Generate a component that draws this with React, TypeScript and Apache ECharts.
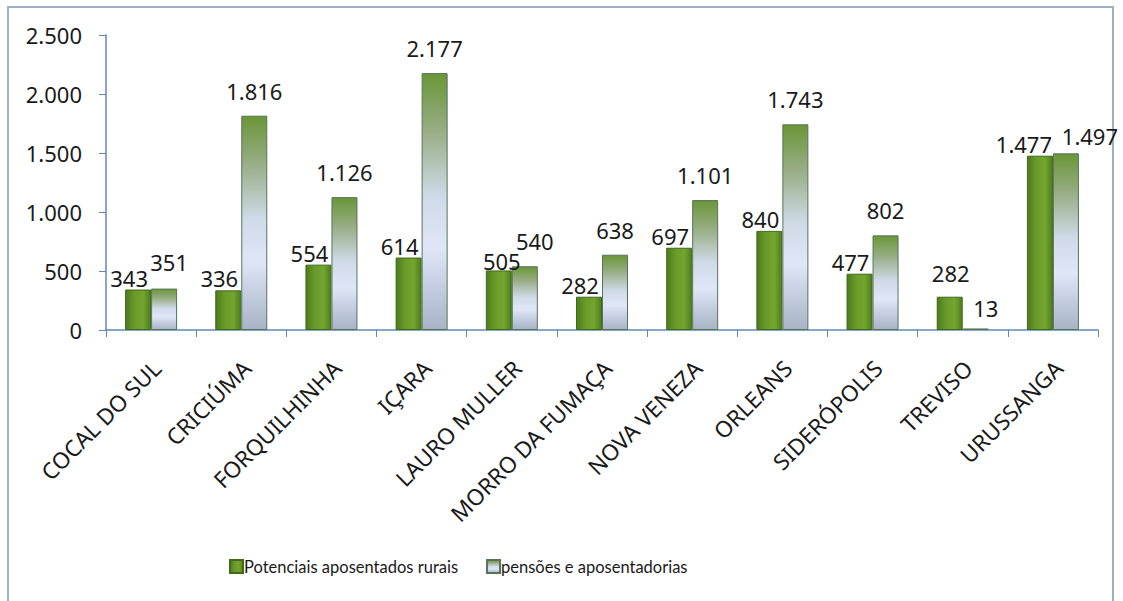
import React, { useEffect, useRef } from "react";
import * as echarts from "echarts";

const categories = [
  "COCAL DO SUL",
  "CRICIÚMA",
  "FORQUILHINHA",
  "IÇARA",
  "LAURO MULLER",
  "MORRO DA FUMAÇA",
  "NOVA VENEZA",
  "ORLEANS",
  "SIDERÓPOLIS",
  "TREVISO",
  "URUSSANGA",
];
const seriesNames = ["Potenciais aposentados rurais", "pensões e aposentadorias"];
const potenciais = [343, 336, 554, 614, 505, 282, 697, 840, 477, 282, 1477];
const pensoes = [351, 1816, 1126, 2177, 540, 638, 1101, 1743, 802, 13, 1497];
const yTicks = [0, 500, 1000, 1500, 2000, 2500];

const fmt = (v: number) => String(Math.round(v)).replace(/\B(?=(\d{3})+(?!\d))/g, ".");

const FONT = "'Noto Sans', Lato, sans-serif";

// label nudges (style only)
const greenNudge: Record<number, [number, number]> = {
  4: [3, 3],
  9: [1, -12],
  10: [-16, 0],
};
const blueNudge: Record<number, [number, number]> = {
  0: [5, -2],
  4: [10, 0],
  9: [10, 5],
  10: [24, 8],
};

export default function App() {
  const ref = useRef<HTMLDivElement>(null);
  useEffect(() => {
    if (!ref.current) return;
    const chart = echarts.init(ref.current, undefined, { renderer: "svg" });
    const greenFill = new echarts.graphic.LinearGradient(0, 0, 1, 0, [
      { offset: 0, color: "#4d7a1c" },
      { offset: 0.35, color: "#6a9a2a" },
      { offset: 0.7, color: "#74a52e" },
      { offset: 1, color: "#4f7d1e" },
    ]);
    const blueFill = new echarts.graphic.LinearGradient(0, 0, 0, 1, [
      { offset: 0, color: "#6a9637" },
      { offset: 0.22, color: "#97ad84" },
      { offset: 0.48, color: "#cfdae8" },
      { offset: 0.68, color: "#dfe6f8" },
      { offset: 1, color: "#a7b3c6" },
    ]);
    const labelBase = {
      show: true,
      position: "top" as const,
      fontFamily: FONT,
      fontSize: 22,
      color: "#1a1a1a",
      formatter: (p: any) => fmt(p.value),
    };
    chart.setOption({
      animation: false,
      backgroundColor: "#ffffff",
      textStyle: { fontFamily: FONT },
      graphic: [
        {
          type: "rect",
          shape: { x: 8, y: 7, width: 1105, height: 640 },
          style: { fill: "none", stroke: "#9fb0c0", lineWidth: 2 },
          silent: true,
        },
      ],
      grid: { left: 106, right: 25, top: 35, bottom: 271, containLabel: false },
      legend: {
        left: 224,
        top: 553,
        itemWidth: 13,
        itemHeight: 13,
        itemGap: 28,
        icon: "rect",
        textStyle: { fontFamily: "Lato", fontSize: 16.5, color: "#1a1a1a", padding: [0, 0, 0, -4] },
        data: seriesNames,
      },
      xAxis: {
        type: "category",
        data: categories,
        axisLine: { lineStyle: { color: "#5b8ab8", width: 1.5 } },
        axisTick: { show: true, length: 7, lineStyle: { color: "#5b8ab8" } },
        axisLabel: {
          rotate: 45,
          interval: 0,
          margin: 40,
          padding: [0, -8, 0, 0],
          fontFamily: FONT,
          fontSize: 22.5,
          color: "#1a1a1a",
        },
      },
      yAxis: {
        type: "value",
        min: 0,
        max: 2500,
        interval: 500,
        splitLine: { show: false },
        axisLine: { show: true, lineStyle: { color: "#5b8ab8", width: 1.5 } },
        axisTick: { show: true, length: 7, lineStyle: { color: "#5b8ab8" } },
        axisLabel: {
          margin: 24,
          fontFamily: FONT,
          fontSize: 22,
          color: "#1a1a1a",
          formatter: (v: number) => (yTicks.includes(v) ? fmt(v) : ""),
        },
      },
      series: [
        {
          name: seriesNames[0],
          type: "bar",
          barWidth: 26,
          barGap: "0%",
          itemStyle: { color: greenFill, borderColor: "#3f6a1a", borderWidth: 1 },
          label: { ...labelBase, distance: 1, offset: [-9, 0] },
          data: potenciais.map((v, i) =>
            greenNudge[i] ? { value: v, label: { offset: greenNudge[i] } } : v
          ),
        },
        {
          name: seriesNames[1],
          type: "bar",
          barWidth: 26,
          barGap: "0%",
          itemStyle: { color: blueFill, borderColor: "#56735a", borderWidth: 1 },
          label: { ...labelBase, distance: 14 },
          data: pensoes.map((v, i) =>
            blueNudge[i] ? { value: v, label: { offset: blueNudge[i] } } : v
          ),
        },
      ],
    });
    return () => chart.dispose();
  }, []);
  return (
    <div
      ref={ref}
      style={{ position: "fixed", left: 0, top: 0, width: 1123, height: 601, background: "#fff" }}
    />
  );
}
